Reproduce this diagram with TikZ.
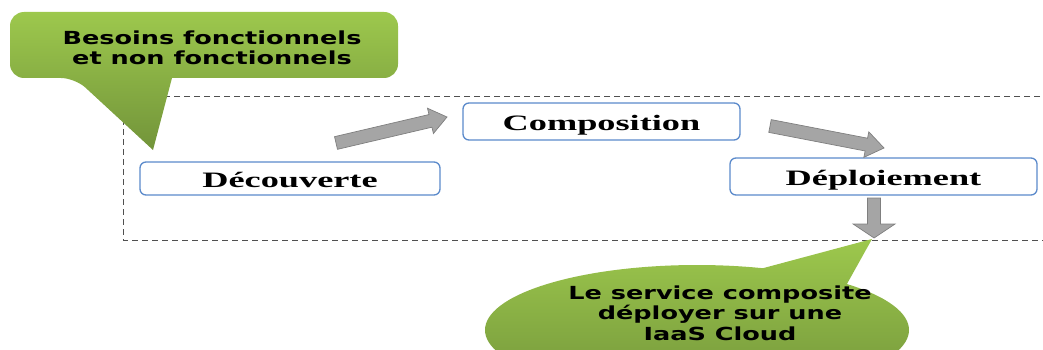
\documentclass[tikz,border=0pt]{standalone}
\usepackage{graphicx}
\usepackage{fontspec}
\setmainfont{Liberation Serif}
\newfontfamily\calloutfont{DejaVu Sans}
\usetikzlibrary{calc}

\definecolor{boxblue}{HTML}{5B8ACB}
\definecolor{greenlight}{HTML}{9DC84D}
\definecolor{greendark}{HTML}{72943A}
\definecolor{arrowfill}{HTML}{A5A5A5}
\definecolor{arrowline}{HTML}{7F7F7F}
\definecolor{framegray}{HTML}{505050}

\newcommand\widetext[1]{\scalebox{1.65}[1]{#1}}

% block arrow: #1 tail, #2 tip, #3 shaft half width, #4 head half width, #5 head length
\newcommand\blockarrow[5]{%
  \coordinate (hb) at ($(#2)!#5!(#1)$);
  \filldraw[blockarrow]
    ($(#1)!#3!90:(#2)$) -- ($(hb)!#3!-90:(#1)$) -- ($(hb)!#4!-90:(#1)$)
    -- (#2) -- ($(hb)!#4!90:(#1)$) -- ($(hb)!#3!90:(#1)$)
    -- ($(#1)!#3!-90:(#2)$) -- cycle;
}

\tikzset{
  stepbox/.style={draw=boxblue, line width=1.3pt, fill=white, rounded corners=6pt,
    inner sep=0pt, font=\fontsize{22}{24}\selectfont\bfseries,
    text height=18pt, text depth=0pt},
  calloutshape/.style={top color=greenlight, bottom color=greendark},
  callouttext/.style={font=\calloutfont\bfseries\fontsize{18}{20.5}\selectfont,
    align=center, xscale=1.42, transform shape},
  blockarrow/.style={fill=arrowfill, draw=arrowline, line width=0.7pt, line join=miter},
  framestyle/.style={draw=framegray, dash pattern=on 6pt off 4pt, line width=0.9pt}
}

\begin{document}
\begin{tikzpicture}[x=1pt, y=-1pt]
  \useasboundingbox (0,0) rectangle (1043,350);
  \clip (0,0) rectangle (1043,350);

  % dashed frame around the process steps
  \draw[framestyle] (1050,96) -- (123,96) -- (123,240) -- (1050,240);

  % requirements callout
  \shade[calloutshape] (250,12) [rounded corners=14pt] -- (10,12) -- (10,78) -- (75,78)
    [sharp corners] -- (153,150) -- (172,78)
    [rounded corners=14pt] -- (398,78) -- (398,12) -- cycle;
  \node[callouttext] (needs) at (212,48) {Besoins fonctionnels\\et non fonctionnels};

  % process steps
  \node[stepbox, minimum width=300pt, minimum height=33pt] (dec) at (290,178.5) {\widetext{Découverte}};
  \node[stepbox, minimum width=277pt, minimum height=37pt] (comp) at (601.5,121.5) {\widetext{Composition}};
  \node[stepbox, minimum width=307pt, minimum height=37pt] (dep) at (883.5,176.5) {\widetext{Déploiement}};

  % result callout
  \shade[calloutshape] (872,239) -- ($(697,330)+(-45:212 and 65)$)
    arc[start angle=-45, end angle=288.1, x radius=212, y radius=65] -- cycle;
  \node[callouttext] (result) at (720,313) {Le service composite\\déployer sur une\\IaaS Cloud};

  % flow arrows
  \coordinate (a1s) at (336,143);
  \coordinate (a1e) at (447,117);
  \coordinate (a2s) at (770,126);
  \coordinate (a2e) at (884,148);
  \coordinate (a3s) at (874,198);
  \coordinate (a3e) at (874,238);
  \blockarrow{a1s}{a1e}{6.5pt}{13pt}{17pt}
  \blockarrow{a2s}{a2e}{6.5pt}{13pt}{18pt}
  \blockarrow{a3s}{a3e}{6.5pt}{21pt}{14pt}
\end{tikzpicture}
\end{document}
